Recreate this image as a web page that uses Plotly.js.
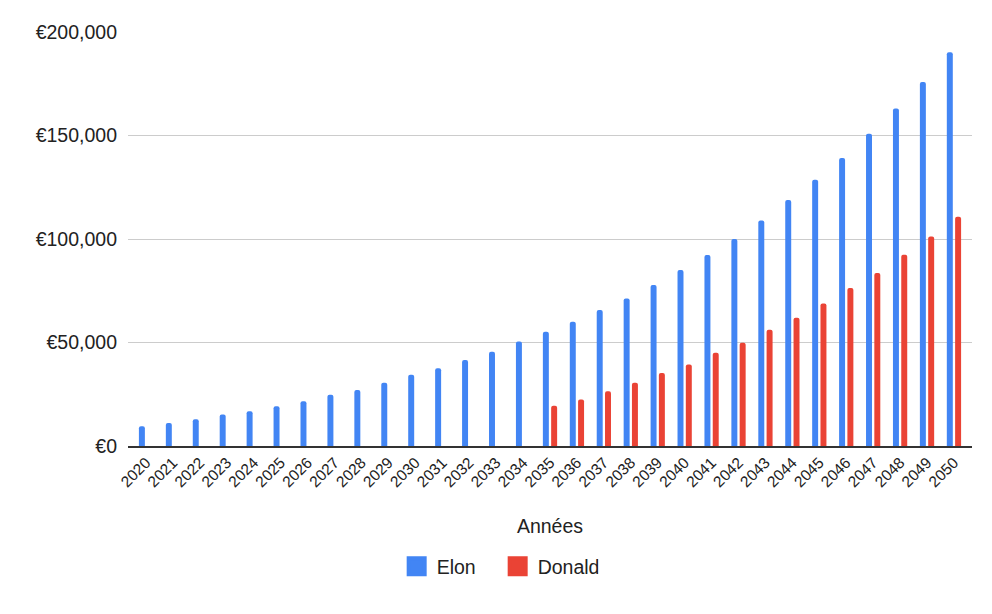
<!DOCTYPE html>
<html>
<head>
<meta charset="utf-8">
<script src="https://cdn.plot.ly/plotly-3.0.1.min.js"></script>
<style>
  html, body { margin: 0; padding: 0; background: #fff; }
  #chart { width: 992px; height: 614px; }
</style>
</head>
<body>
<div id="chart"></div>
<script>
const years = ['2020', '2021', '2022', '2023', '2024', '2025', '2026', '2027', '2028', '2029',
  '2030', '2031', '2032', '2033', '2034', '2035', '2036', '2037', '2038', '2039',
  '2040', '2041', '2042', '2043', '2044', '2045', '2046', '2047', '2048', '2049', '2050'];

const elon = [9500, 11100, 12900, 15200, 16800, 19200, 21600, 24700, 27100, 30500,
  34400, 37600, 41600, 45500, 50500, 55200, 60000, 65700, 71300, 77800,
  85000, 92300, 100000, 108900, 118900, 128600, 139100, 150900, 163000, 175900, 190200];

const donald = [null, null, null, null, null, null, null, null, null, null,
  null, null, null, null, null, 19400, 22500, 26500, 30500, 35300,
  39400, 45000, 49900, 56100, 62000, 68900, 76300, 83600, 92400, 101200, 110800];

const yTicks = [0, 50000, 100000, 150000, 200000];
const yLabels = ['€0', '€50,000', '€100,000', '€150,000', '€200,000'];

const BLUE = '#4285f4';
const RED = '#ea4335';
const FONT = 'Liberation Sans, Arial, sans-serif';

const elonBars = {
  x: years,
  y: elon,
  type: 'bar',
  name: 'Elon',
  marker: { color: BLUE, cornerradius: 3 },
  hoverinfo: 'skip',
  showlegend: false
};

const donaldBars = {
  x: years,
  y: donald,
  type: 'bar',
  name: 'Donald',
  marker: { color: RED, cornerradius: 3 },
  hoverinfo: 'skip',
  showlegend: false
};

// legend-only entries so the swatches can be bigger than the bar default
const legendTrace = (name, color) => ({
  x: [null],
  y: [null],
  type: 'scatter',
  mode: 'markers',
  name,
  marker: { color, symbol: 'square', size: 16, line: { color, width: 4 } },
  hoverinfo: 'skip'
});

const layout = {
  width: 992,
  height: 614,
  margin: { l: 128, r: 20, t: 32, b: 168 },
  paper_bgcolor: '#fff',
  plot_bgcolor: '#fff',
  font: { family: FONT, color: '#222' },
  barmode: 'group',
  bargap: 0.384,
  bargroupgap: 0.28,
  xaxis: {
    type: 'category',
    range: [-0.67, 30.67],
    tickangle: -45,
    tickfont: { size: 15.5, color: '#222' },
    showgrid: false,
    showline: true,
    linecolor: '#333',
    linewidth: 1.5,
    layer: 'above traces',
    ticks: '',
    fixedrange: true,
    title: { text: 'Années', font: { size: 19.5, color: '#222' }, standoff: 30 }
  },
  yaxis: {
    range: [0, 200000],
    tickmode: 'array',
    tickvals: yTicks,
    ticktext: yLabels,
    tickfont: { size: 19.5, color: '#222' },
    ticklabelstandoff: 10,
    showgrid: true,
    gridcolor: '#cccccc',
    gridwidth: 1,
    zeroline: false,
    showline: false,
    ticks: '',
    fixedrange: true
  },
  showlegend: true,
  legend: {
    orientation: 'h',
    x: 0.438,
    xanchor: 'center',
    y: -0.291,
    yanchor: 'middle',
    entrywidth: 56,
    entrywidthmode: 'pixels',
    font: { size: 19.5, color: '#222' },
    bgcolor: 'rgba(0,0,0,0)'
  }
};

Plotly.newPlot('chart',
  [elonBars, donaldBars, legendTrace('Elon', BLUE), legendTrace('Donald', RED)],
  layout,
  { displayModeBar: false, staticPlot: true });
</script>
</body>
</html>
